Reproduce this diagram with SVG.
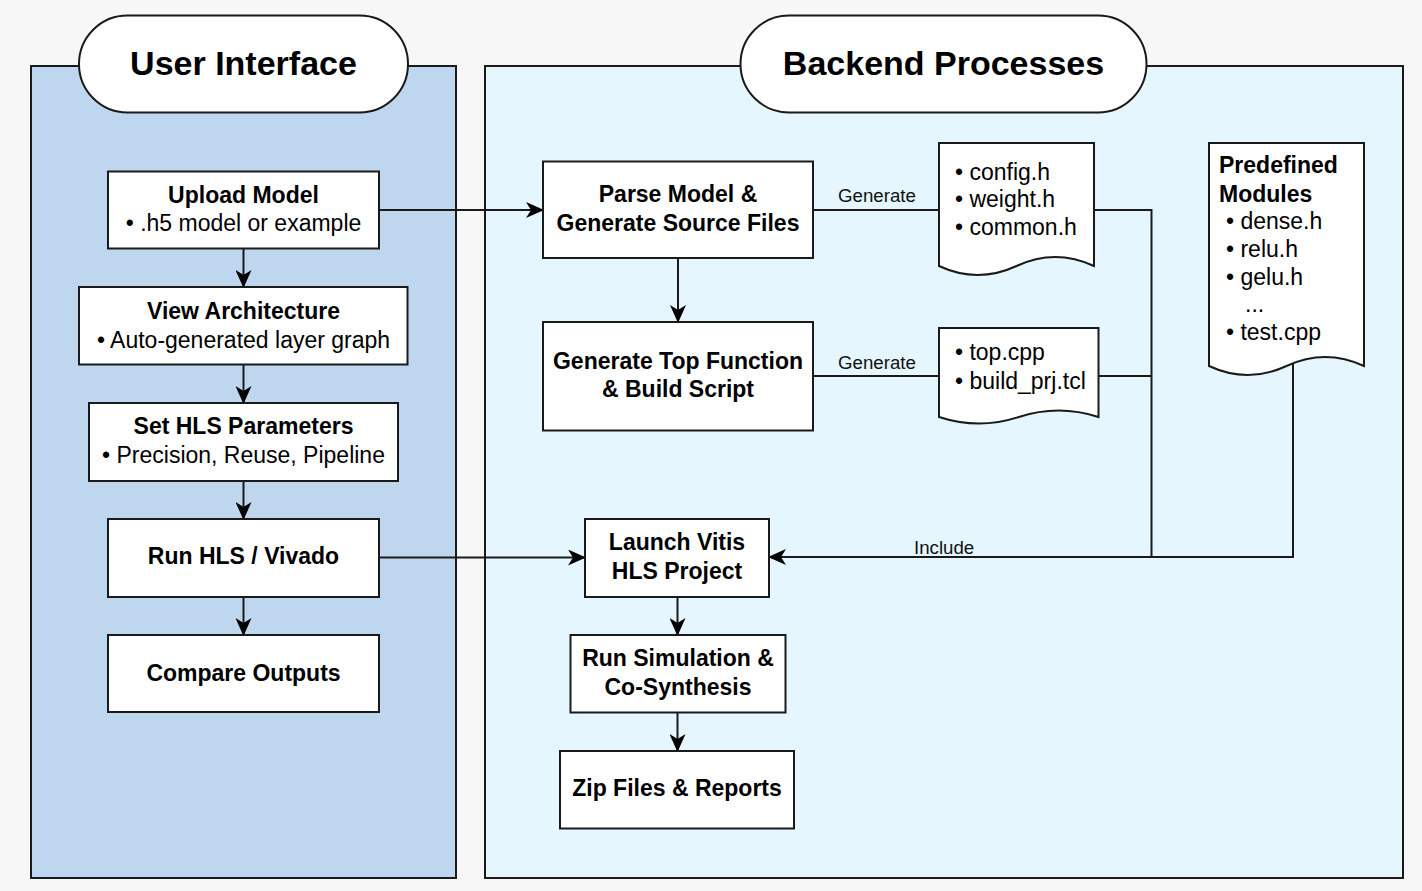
<svg xmlns="http://www.w3.org/2000/svg" width="1422" height="891" viewBox="0 0 1422 891">
<defs>
<style>
.bg{fill:#f7f7f7}
.panel{stroke:#1a1a1a;stroke-width:2}
.pill{fill:#ffffff;stroke:#1a1a1a;stroke-width:2}
.box{fill:#ffffff;stroke:#1a1a1a;stroke-width:2}
.title{font-family:"Liberation Sans",Arial,sans-serif;font-size:34px;font-weight:bold;fill:#000;text-anchor:middle}
.b{font-family:"Liberation Sans",Arial,sans-serif;font-size:23px;font-weight:bold;fill:#000;text-anchor:middle}
.r{font-family:"Liberation Sans",Arial,sans-serif;font-size:23px;fill:#000;text-anchor:middle}
.rl{font-family:"Liberation Sans",Arial,sans-serif;font-size:23px;fill:#000}
.bl{font-family:"Liberation Sans",Arial,sans-serif;font-size:23px;font-weight:bold;fill:#000}
.lab{font-family:"Liberation Sans",Arial,sans-serif;font-size:18.7px;fill:#111}
.edge{fill:none;stroke:#1a1a1a;stroke-width:2}
</style>
<marker id="arr" viewBox="0 0 18 16" markerWidth="18" markerHeight="16" refX="17" refY="8" orient="auto" markerUnits="userSpaceOnUse">
<path d="M0,0 L18,8 L0,16 L5,8 Z" fill="#000"/>
</marker>
</defs>
<rect class="bg" x="0" y="0" width="1422" height="891"/>

<g id="panel-ui">
<rect class="panel" x="31" y="66" width="425" height="812" fill="#bfd7ee"/>
<rect class="pill" x="79" y="15.5" width="329" height="97" rx="48.5" ry="48.5"/>
<text class="title" x="243.5" y="75">User Interface</text>
</g>

<g id="panel-backend">
<rect class="panel" x="485" y="66" width="918" height="812" fill="#e5f6fe"/>
<rect class="pill" x="740.5" y="15.5" width="406" height="97" rx="48.5" ry="48.5"/>
<text class="title" x="943.5" y="75">Backend Processes</text>
</g>

<g id="connectors">
<path class="edge" d="M243.5,248.5 V287" marker-end="url(#arr)"/>
<path class="edge" d="M243.5,364.5 V403" marker-end="url(#arr)"/>
<path class="edge" d="M243.5,481 V519" marker-end="url(#arr)"/>
<path class="edge" d="M243.5,597 V635" marker-end="url(#arr)"/>
<path class="edge" d="M379,210 H543" marker-end="url(#arr)"/>
<path class="edge" d="M379,557.5 H585" marker-end="url(#arr)"/>
<path class="edge" d="M678,258 V322" marker-end="url(#arr)"/>
<path class="edge" d="M813,210 H939"/>
<path class="edge" d="M813,376 H939"/>
<path class="edge" d="M1094,210 H1151.5 V557"/>
<path class="edge" d="M1098.5,376 H1151.5"/>
<path class="edge" d="M1293,364 V557 H769" marker-end="url(#arr)"/>
<path class="edge" d="M677.5,597 V635" marker-end="url(#arr)"/>
<path class="edge" d="M677.5,712.5 V751" marker-end="url(#arr)"/>
<text class="lab" x="877" y="202" text-anchor="middle">Generate</text>
<text class="lab" x="877" y="368.5" text-anchor="middle">Generate</text>
<text class="lab" x="914" y="553.5">Include</text>
</g>

<g id="upload-model">
<rect class="box" x="108" y="171.5" width="271" height="77"/>
<text class="b" x="243.5" y="202.5">Upload Model</text>
<text class="r" x="243.5" y="231">• .h5 model or example</text>
</g>

<g id="view-architecture">
<rect class="box" x="79" y="287" width="328.5" height="77.5"/>
<text class="b" x="243.5" y="318.5">View Architecture</text>
<text class="r" x="243.5" y="347.5">• Auto-generated layer graph</text>
</g>

<g id="set-hls-parameters">
<rect class="box" x="89" y="403" width="309" height="78"/>
<text class="b" x="243.5" y="433.5">Set HLS Parameters</text>
<text class="r" x="243.5" y="462.5">• Precision, Reuse, Pipeline</text>
</g>

<g id="run-hls">
<rect class="box" x="108" y="519" width="271" height="78"/>
<text class="b" x="243.5" y="564">Run HLS / Vivado</text>
</g>

<g id="compare-outputs">
<rect class="box" x="108" y="635" width="271" height="77"/>
<text class="b" x="243.5" y="680.5">Compare Outputs</text>
</g>

<g id="parse-model">
<rect class="box" x="543" y="161.5" width="270" height="96.5"/>
<text class="b" x="678" y="202">Parse Model &amp;</text>
<text class="b" x="678" y="231">Generate Source Files</text>
</g>

<g id="generate-top">
<rect class="box" x="543" y="322" width="270" height="108.5"/>
<text class="b" x="678" y="368.5">Generate Top Function</text>
<text class="b" x="678" y="397">&amp; Build Script</text>
</g>

<g id="doc-headers">
<path class="box" d="M939,143 H1094 V266 Q1055.25,248 1016.5,266 Q977.75,284 939,266 Z"/>
<text class="rl" x="955" y="179.5">• config.h</text>
<text class="rl" x="955" y="207">• weight.h</text>
<text class="rl" x="955" y="235">• common.h</text>
</g>

<g id="doc-top">
<path class="box" d="M939,328 H1098.5 V417 Q1058.6,404 1018.75,417 Q978.9,430 939,417 Z"/>
<text class="rl" x="955" y="360">• top.cpp</text>
<text class="rl" x="955" y="388.5">• build_prj.tcl</text>
</g>

<g id="predefined-modules">
<path class="box" d="M1209,143 H1364 V366 Q1325.25,348 1286.5,366 Q1247.75,384 1209,366 Z"/>
<text class="bl" x="1219" y="173">Predefined</text>
<text class="bl" x="1219" y="202">Modules</text>
<text class="rl" x="1226" y="229">• dense.h</text>
<text class="rl" x="1226" y="257">• relu.h</text>
<text class="rl" x="1226" y="285">• gelu.h</text>
<text class="rl" x="1245" y="312">...</text>
<text class="rl" x="1226" y="339.5">• test.cpp</text>
</g>

<g id="launch-vitis">
<rect class="box" x="585" y="519" width="184" height="78"/>
<text class="b" x="677" y="550">Launch Vitis</text>
<text class="b" x="677" y="579">HLS Project</text>
</g>

<g id="run-simulation">
<rect class="box" x="570.5" y="635" width="215" height="77.5"/>
<text class="b" x="678" y="666">Run Simulation &amp;</text>
<text class="b" x="678" y="695">Co-Synthesis</text>
</g>

<g id="zip-files">
<rect class="box" x="560" y="751" width="234" height="77.5"/>
<text class="b" x="677" y="796">Zip Files &amp; Reports</text>
</g>
</svg>
